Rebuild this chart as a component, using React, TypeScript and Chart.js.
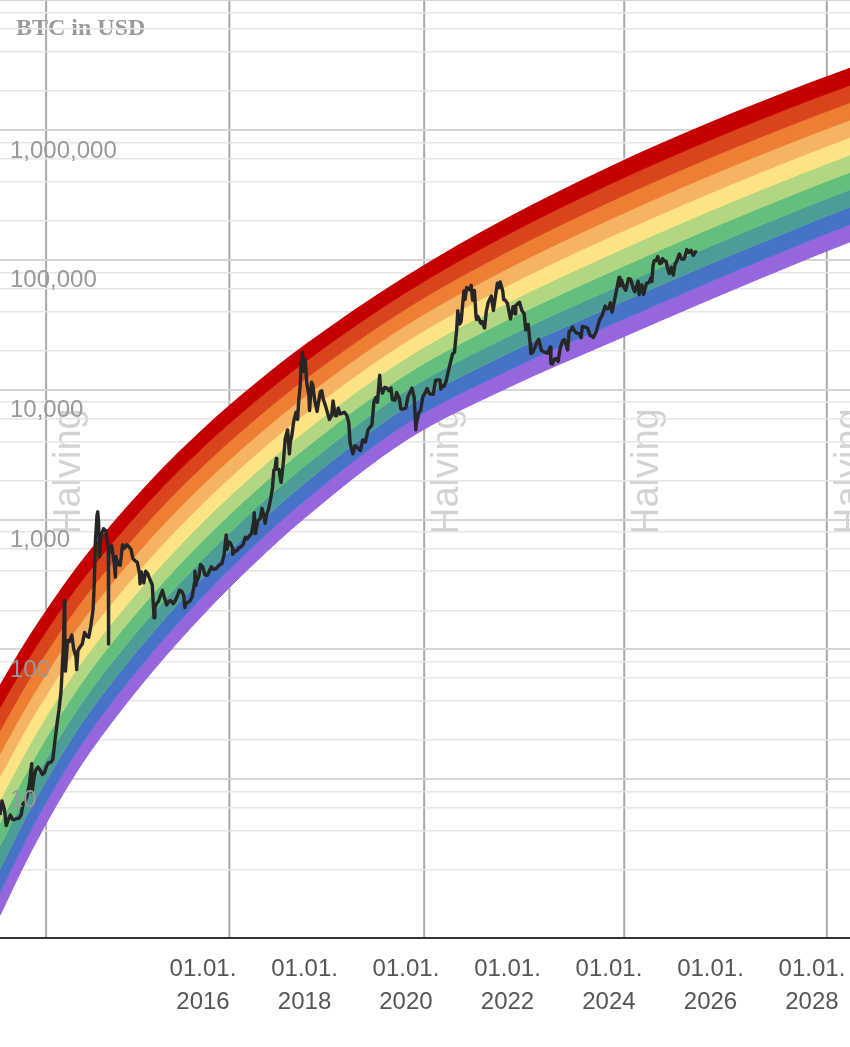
import React, { useEffect, useRef } from 'react';
import { Chart, registerables } from 'chart.js';

Chart.register(...registerables);

// ---------- axes ----------
const X_MIN = '2012-01-01';
const X_MAX = '2028-10-01';
const Y_MIN = 0.632;
const Y_MAX = 10000000;
const xTickYears = [2016, 2018, 2020, 2022, 2024, 2026, 2028];
const yDecades = [1, 10, 100, 1000, 10000, 100000, 1000000];
const yMinorSteps = [2, 4, 6, 8, 10];
const yLabelValues = [10, 100, 1000, 10000, 100000, 1000000];
const titleText = 'BTC in USD';
const halvingLabel = 'Halving';
const halvingDates = ['2012-11-28', '2016-07-09', '2020-05-11', '2024-04-20', '2028-04-17'];

// ---------- rainbow band boundaries (top of red ... bottom of purple) ----------
const bandDates = ['2012-01-01', '2012-07-01', '2013-01-01', '2013-07-01', '2014-01-01', '2015-01-01', '2016-01-01', '2017-01-01', '2018-01-01', '2020-01-01', '2022-01-01', '2024-01-01', '2026-01-01', '2028-01-01', '2028-10-01'];
const b0 = [53.7, 114, 227, 424, 748, 2065, 5000, 10940, 22130, 74990, 211300, 518800, 1148000, 2344000, 3006000];
const b1 = [35.7, 77.3, 156, 295, 525, 1467, 3596, 7962, 16280, 56050, 156300, 379700, 838800, 1719000, 2208000];
const b2 = [23.7, 52.2, 107, 205, 368, 1042, 2586, 5797, 11980, 41900, 115600, 277800, 613000, 1260000, 1622000];
const b3 = [15.7, 35.3, 73.6, 142, 258, 740, 1859, 4220, 8812, 31320, 85510, 203300, 447800, 923900, 1191000];
const b4 = [10.45, 23.9, 50.5, 99.0, 181, 526, 1337, 3072, 6483, 23410, 63240, 148800, 327200, 677400, 875000];
const b5 = [6.94, 16.1, 34.7, 68.9, 127, 373, 962, 2236, 4770, 17500, 46770, 108900, 239000, 496600, 642700];
const b6 = [4.61, 10.9, 23.8, 47.9, 89.3, 265, 692, 1627, 3509, 13080, 34590, 79680, 174700, 364100, 472100];
const b7 = [3.06, 7.38, 16.4, 33.3, 62.6, 188, 497, 1185, 2582, 9777, 25590, 58320, 127600, 267000, 346700];
const b8 = [2.03, 4.99, 11.25, 23.2, 43.9, 134, 358, 863, 1899, 7308, 18920, 42670, 93240, 195700, 254700];
const b9 = [1.35, 3.37, 7.73, 16.1, 30.8, 95.0, 257, 628, 1397, 5463, 14000, 31230, 68140, 143500, 187100];
const b10 = [0.897, 2.28, 5.31, 11.2, 21.6, 67.5, 185, 457, 1028, 4083, 10350, 22860, 49770, 105200, 137400];
const bandBoundaries = [b0, b1, b2, b3, b4, b5, b6, b7, b8, b9, b10];
const bandColors = ['#c40000', '#d8441b', '#ee7e32', '#f6b463', '#fde383', '#b3d682', '#64be7c', '#4c9d96', '#4673c6', '#9566dd'];

// ---------- BTC price ----------
const price2012: [string, number][] = [['2012-01-01', 5.3], ['2012-01-15', 6.8], ['2012-02-01', 5.9], ['2012-02-15', 4.4], ['2012-03-01', 4.9], ['2012-03-15', 5.3], ['2012-04-01', 4.9], ['2012-04-15', 4.9], ['2012-05-01', 5.0], ['2012-05-15', 5.0], ['2012-06-01', 5.3], ['2012-06-15', 6.5], ['2012-07-01', 6.7], ['2012-07-15', 7.6], ['2012-08-01', 9.4], ['2012-08-16', 13.2], ['2012-08-19', 8.0], ['2012-09-01', 10.1], ['2012-09-15', 11.8], ['2012-10-01', 12.4], ['2012-10-15', 11.8], ['2012-11-01', 10.9], ['2012-11-15', 11.2], ['2012-12-01', 12.6], ['2012-12-15', 13.4]];
const price2013: [string, number][] = [['2013-01-01', 13.5], ['2013-01-15', 14.2], ['2013-02-01', 20.4], ['2013-02-15', 27], ['2013-03-01', 34.5], ['2013-03-15', 47], ['2013-03-25', 75], ['2013-04-01', 104], ['2013-04-09', 237], ['2013-04-12', 90], ['2013-04-16', 68], ['2013-05-01', 117], ['2013-05-15', 115], ['2013-06-01', 129], ['2013-06-15', 100], ['2013-07-01', 88], ['2013-07-06', 70], ['2013-07-15', 98], ['2013-08-01', 105], ['2013-08-15', 110], ['2013-09-01', 135], ['2013-09-15', 127], ['2013-10-01', 124], ['2013-10-15', 150], ['2013-11-01', 204], ['2013-11-10', 330], ['2013-11-18', 700], ['2013-11-30', 1100], ['2013-12-04', 1150], ['2013-12-10', 980], ['2013-12-18', 520], ['2013-12-25', 700]];
const price2014: [string, number][] = [['2014-01-01', 770], ['2014-01-15', 850], ['2014-02-01', 820], ['2014-02-10', 680], ['2014-02-19', 620], ['2014-02-20', 110], ['2014-02-21', 580], ['2014-03-01', 560], ['2014-03-15', 630], ['2014-04-01', 470], ['2014-04-10', 360], ['2014-04-15', 520], ['2014-05-01', 450], ['2014-05-15', 445], ['2014-06-01', 640], ['2014-06-15', 600], ['2014-07-01', 640], ['2014-07-15', 620], ['2014-08-01', 590], ['2014-08-15', 500], ['2014-09-01', 480], ['2014-09-15', 470], ['2014-10-01', 385], ['2014-10-05', 320], ['2014-10-15', 395], ['2014-11-01', 325], ['2014-11-15', 400], ['2014-12-01', 380], ['2014-12-15', 345]];
const price2015: [string, number][] = [['2015-01-01', 315], ['2015-01-14', 175], ['2015-01-20', 210], ['2015-02-01', 225], ['2015-02-15', 235], ['2015-03-01', 260], ['2015-03-15', 285], ['2015-04-01', 245], ['2015-04-15', 220], ['2015-05-01', 235], ['2015-05-15', 237], ['2015-06-01', 225], ['2015-06-15', 237], ['2015-07-01', 258], ['2015-07-15', 285], ['2015-08-01', 280], ['2015-08-15', 260], ['2015-08-24', 210], ['2015-09-01', 228], ['2015-09-15', 230], ['2015-10-01', 237], ['2015-10-15', 255], ['2015-11-01', 325], ['2015-11-04', 400], ['2015-11-11', 310], ['2015-11-15', 330], ['2015-12-01', 360], ['2015-12-15', 450], ['2015-12-31', 430]];
const price2016: [string, number][] = [['2016-01-15', 375], ['2016-02-01', 372], ['2016-02-15', 400], ['2016-03-01', 433], ['2016-03-15', 415], ['2016-04-01', 416], ['2016-04-15', 430], ['2016-05-01', 450], ['2016-05-15', 455], ['2016-06-01', 535], ['2016-06-16', 760], ['2016-06-22', 590], ['2016-07-01', 675], ['2016-07-15', 660], ['2016-08-01', 605], ['2016-08-02', 540], ['2016-08-15', 570], ['2016-09-01', 575], ['2016-09-15', 605], ['2016-10-01', 615], ['2016-10-15', 640], ['2016-11-01', 730], ['2016-11-15', 710], ['2016-12-01', 750], ['2016-12-15', 780], ['2016-12-31', 965]];
const price2017: [string, number][] = [['2017-01-04', 1130], ['2017-01-11', 780], ['2017-01-15', 820], ['2017-02-01', 985], ['2017-02-15', 1010], ['2017-03-01', 1220], ['2017-03-10', 1110], ['2017-03-24', 935], ['2017-04-01', 1080], ['2017-04-15', 1180], ['2017-05-01', 1420], ['2017-05-15', 1750], ['2017-05-25', 2400], ['2017-06-01', 2410], ['2017-06-12', 2950], ['2017-06-15', 2450], ['2017-07-01', 2430], ['2017-07-16', 1930], ['2017-08-01', 2720], ['2017-08-15', 4200], ['2017-09-01', 4900], ['2017-09-14', 3200], ['2017-09-20', 3900], ['2017-10-01', 4400], ['2017-10-15', 5700], ['2017-11-01', 6700], ['2017-11-12', 5900], ['2017-11-20', 8200], ['2017-12-01', 10900], ['2017-12-08', 16000], ['2017-12-17', 19400], ['2017-12-22', 13800], ['2017-12-31', 14100]];
const price2018: [string, number][] = [['2018-01-06', 17100], ['2018-01-17', 11200], ['2018-02-01', 9200], ['2018-02-06', 6900], ['2018-02-20', 11400], ['2018-03-01', 10900], ['2018-03-15', 8300], ['2018-04-01', 6800], ['2018-04-24', 9600], ['2018-05-05', 9800], ['2018-05-15', 8500], ['2018-06-01', 7500], ['2018-06-29', 5900], ['2018-07-15', 6300], ['2018-07-25', 8200], ['2018-08-10', 6300], ['2018-08-20', 6300], ['2018-09-01', 7200], ['2018-09-15', 6500], ['2018-10-01', 6600], ['2018-10-15', 6700], ['2018-11-01', 6350], ['2018-11-15', 5600], ['2018-11-25', 3900], ['2018-12-15', 3200], ['2018-12-31', 3700]];
const price2019: [string, number][] = [['2019-01-15', 3600], ['2019-02-07', 3400], ['2019-02-24', 4100], ['2019-03-15', 3950], ['2019-04-03', 4900], ['2019-04-15', 5100], ['2019-05-01', 5350], ['2019-05-15', 8000], ['2019-05-30', 8700], ['2019-06-10', 8000], ['2019-06-26', 12900], ['2019-07-01', 10600], ['2019-07-16', 9400], ['2019-08-01', 10400], ['2019-08-15', 10300], ['2019-09-01', 9800], ['2019-09-15', 10300], ['2019-09-25', 8400], ['2019-10-15', 8300], ['2019-10-26', 9500], ['2019-11-15', 8500], ['2019-11-25', 7100], ['2019-12-15', 7100], ['2019-12-31', 7200]];
const price2020: [string, number][] = [['2020-01-15', 8800], ['2020-02-13', 10300], ['2020-03-01', 8600], ['2020-03-12', 4900], ['2020-03-15', 5400], ['2020-04-01', 6600], ['2020-04-15', 6900], ['2020-05-01', 8800], ['2020-05-15', 9300], ['2020-06-01', 10200], ['2020-06-15', 9400], ['2020-07-01', 9200], ['2020-07-15', 9200], ['2020-08-01', 11800], ['2020-08-15', 11900], ['2020-09-01', 11900], ['2020-09-08', 10100], ['2020-09-15', 10800], ['2020-10-01', 10600], ['2020-10-15', 11500], ['2020-11-01', 13800], ['2020-11-15', 16000], ['2020-12-01', 18800], ['2020-12-15', 19400], ['2020-12-31', 29000]];
const price2021: [string, number][] = [['2021-01-08', 40500], ['2021-01-22', 32000], ['2021-02-01', 33500], ['2021-02-21', 57500], ['2021-03-01', 49500], ['2021-03-13', 61200], ['2021-04-01', 58800], ['2021-04-14', 63500], ['2021-04-25', 49000], ['2021-05-08', 58000], ['2021-05-19', 37000], ['2021-05-23', 34700], ['2021-06-01', 36700], ['2021-06-22', 32500], ['2021-07-01', 33500], ['2021-07-20', 29800], ['2021-08-01', 39900], ['2021-08-15', 47000], ['2021-09-06', 52700], ['2021-09-21', 40700], ['2021-10-01', 48200], ['2021-10-20', 66000], ['2021-11-01', 61300], ['2021-11-09', 67500], ['2021-11-28', 57300], ['2021-12-04', 49400], ['2021-12-15', 48900], ['2021-12-31', 46300]];
const price2022: [string, number][] = [['2022-01-22', 35000], ['2022-02-10', 43500], ['2022-02-24', 38300], ['2022-03-01', 44400], ['2022-03-28', 47100], ['2022-04-15', 40500], ['2022-05-01', 38400], ['2022-05-12', 28900], ['2022-05-30', 31700], ['2022-06-13', 22500], ['2022-06-18', 19000], ['2022-07-01', 19300], ['2022-07-15', 20800], ['2022-08-01', 23300], ['2022-08-14', 24400], ['2022-09-01', 20100], ['2022-09-15', 19700], ['2022-10-01', 19300], ['2022-10-15', 19100], ['2022-11-05', 21300], ['2022-11-09', 15900], ['2022-11-21', 15800], ['2022-12-01', 17000], ['2022-12-15', 17400], ['2022-12-31', 16500]];
const price2023: [string, number][] = [['2023-01-15', 20800], ['2023-02-01', 23700], ['2023-02-15', 24300], ['2023-03-10', 20200], ['2023-03-20', 28000], ['2023-04-01', 28500], ['2023-04-14', 30400], ['2023-05-01', 28000], ['2023-05-15', 27200], ['2023-06-01', 27000], ['2023-06-15', 25100], ['2023-06-23', 30700], ['2023-07-15', 30300], ['2023-08-01', 29700], ['2023-08-18', 26100], ['2023-09-01', 25900], ['2023-09-11', 25200], ['2023-10-01', 27900], ['2023-10-24', 34000], ['2023-11-15', 37800], ['2023-12-05', 44000], ['2023-12-15', 42000], ['2023-12-31', 42300]];
const price2024: [string, number][] = [['2024-01-11', 46600], ['2024-01-23', 39500], ['2024-02-15', 51800], ['2024-03-05', 66000], ['2024-03-14', 73100], ['2024-03-20', 63000], ['2024-04-01', 69700], ['2024-04-17', 61300], ['2024-05-01', 58200], ['2024-05-20', 71400], ['2024-06-05', 71000], ['2024-06-24', 60300], ['2024-07-05', 56700], ['2024-07-29', 68200], ['2024-08-05', 54000], ['2024-08-25', 64200], ['2024-09-06', 53900], ['2024-09-27', 65800], ['2024-10-15', 67000], ['2024-10-29', 72600], ['2024-11-05', 68000], ['2024-11-13', 90000], ['2024-11-22', 98500], ['2024-12-05', 98000], ['2024-12-17', 106000], ['2024-12-31', 93400]];
const price2025: [string, number][] = [['2025-01-13', 94500], ['2025-01-20', 102000], ['2025-02-03', 97700], ['2025-02-15', 97500], ['2025-02-28', 84300], ['2025-03-10', 78500], ['2025-03-25', 87500], ['2025-04-08', 76300], ['2025-04-22', 93500], ['2025-05-01', 96400], ['2025-05-22', 111000], ['2025-06-05', 101500], ['2025-06-22', 101000], ['2025-07-01', 105700], ['2025-07-14', 119800], ['2025-08-01', 113300], ['2025-08-14', 118300], ['2025-08-30', 108200], ['2025-09-15', 115300], ['2025-09-22', 112700]];
const btcPrice = [...price2012, ...price2013, ...price2014, ...price2015, ...price2016, ...price2017, ...price2018, ...price2019, ...price2020, ...price2021, ...price2022, ...price2023, ...price2024, ...price2025];

// ---------- helpers ----------
const ms = (d: string) => Date.parse(d + 'T00:00:00Z');
const yTickValues: number[] = [];
yDecades.forEach((d) => yMinorSteps.forEach((s) => yTickValues.push(d * s)));
const isDecade = (v: number) => Math.abs(Math.log10(v) - Math.round(Math.log10(v))) < 1e-9;

const backdrop = {
  id: 'backdrop',
  beforeDraw(chart: any) {
    const { ctx, chartArea, scales } = chart;
    const x = scales.x;
    ctx.save();
    ctx.font = 'bold 24px "Liberation Serif"';
    ctx.fillStyle = '#9a9a9a';
    ctx.textAlign = 'left';
    ctx.textBaseline = 'alphabetic';
    ctx.fillText(titleText, chartArea.left + 16, chartArea.top + 35);
    ctx.beginPath();
    ctx.rect(chartArea.left, chartArea.top, chartArea.right - chartArea.left, chartArea.bottom - chartArea.top);
    ctx.clip();
    halvingDates.forEach((d) => {
      const px = x.getPixelForValue(ms(d));
      ctx.strokeStyle = '#a9a9a9';
      ctx.lineWidth = 2;
      ctx.beginPath();
      ctx.moveTo(px, chartArea.top);
      ctx.lineTo(px, chartArea.bottom);
      ctx.stroke();
      ctx.save();
      ctx.translate(px + 34, 535);
      ctx.rotate(-Math.PI / 2);
      ctx.font = '38px "Liberation Sans"';
      ctx.fillStyle = '#d3d3d3';
      ctx.fillText(halvingLabel, 0, 0);
      ctx.restore();
    });
    ctx.restore();
  },
};

export default function App() {
  const ref = useRef<HTMLCanvasElement>(null);
  useEffect(() => {
    if (!ref.current) return;
    const bandDatasets = bandBoundaries.map((vals, j) => ({
      type: 'line' as const,
      data: vals.map((v, i) => ({ x: ms(bandDates[i]), y: v })),
      borderWidth: j === 0 ? 0 : 1,
      borderColor: j === 0 ? 'rgba(0,0,0,0)' : bandColors[j - 1],
      backgroundColor: j === 0 ? 'rgba(0,0,0,0)' : bandColors[j - 1],
      fill: j === 0 ? false : '-1',
      pointRadius: 0,
      cubicInterpolationMode: 'monotone' as const,
      order: 1,
    }));
    const priceDataset = {
      type: 'line' as const,
      data: btcPrice.map(([d, v]) => ({ x: ms(d), y: v })),
      borderColor: '#262626',
      borderWidth: 3.4,
      borderJoinStyle: 'round' as const,
      pointRadius: 0,
      fill: false,
      tension: 0,
      order: 0,
    };
    const chart = new Chart(ref.current, {
      type: 'line',
      data: { datasets: [...bandDatasets, priceDataset] as any },
      plugins: [backdrop],
      options: {
        responsive: false,
        animation: false,
        devicePixelRatio: 1,
        layout: { autoPadding: false, padding: { left: 0, right: 0, top: 0, bottom: 13 } },
        plugins: { legend: { display: false }, tooltip: { enabled: false } },
        events: [],
        scales: {
          x: {
            type: 'linear',
            min: ms(X_MIN),
            max: ms(X_MAX),
            position: 'bottom',
            afterBuildTicks: (s: any) => {
              s.ticks = xTickYears.map((y) => ({ value: ms(`${y}-01-01`) }));
            },
            afterFit: (s: any) => {
              s.paddingLeft = 0;
              s.paddingRight = 0;
            },
            grid: { display: false, drawTicks: false },
            border: { display: true, color: '#333333', width: 2 },
            ticks: {
              autoSkip: false,
              maxRotation: 0,
              minRotation: 0,
              padding: 15,
              color: '#555555',
              font: { family: 'Liberation Sans', size: 24, lineHeight: 1.375 },
              callback: (v: any) => ['01.01.', String(new Date(Number(v)).getUTCFullYear())],
            },
          },
          y: {
            type: 'logarithmic',
            min: Y_MIN,
            max: Y_MAX,
            position: 'left',
            afterBuildTicks: (s: any) => {
              s.ticks = yTickValues.map((v) => ({ value: v }));
            },
            afterFit: (s: any) => {
              s.width = 0;
              s.paddingTop = 0;
              s.paddingBottom = 0;
            },
            grid: {
              drawTicks: false,
              color: (c: any) => (isDecade(c.tick.value) ? '#d6d6d6' : '#e6e6e6'),
              lineWidth: (c: any) => (isDecade(c.tick.value) ? 2 : 1.5),
            },
            border: { display: false },
            ticks: {
              mirror: true,
              padding: 10,
              labelOffset: 21,
              z: 1,
              autoSkip: false,
              color: '#999999',
              font: { family: 'Liberation Sans', size: 24 },
              callback: (v: any) => (yLabelValues.includes(Number(v)) ? Number(v).toLocaleString('en-US') : ''),
            },
          },
        },
      } as any,
    });
    return () => chart.destroy();
  }, []);
  return (
    <div style={{ position: 'absolute', left: 0, top: 0, width: 850, height: 1047 }}>
      <canvas ref={ref} width={850} height={1047} style={{ display: 'block', width: 850, height: 1047 }} />
    </div>
  );
}
